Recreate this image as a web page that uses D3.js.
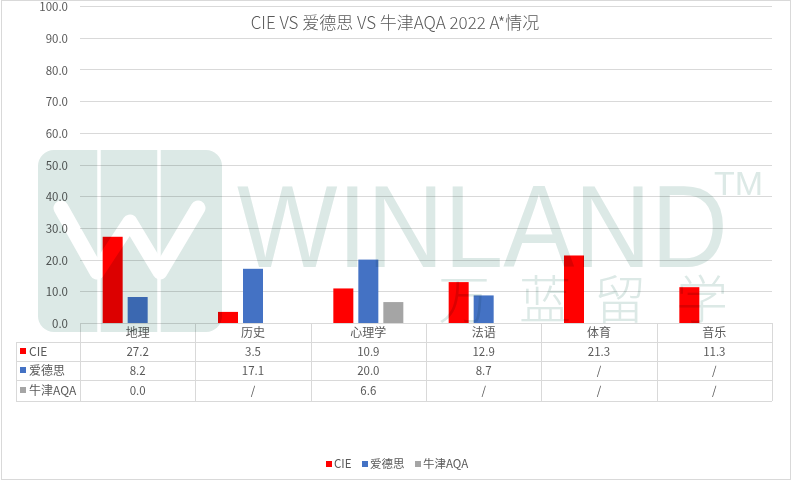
<!DOCTYPE html>
<html><head><meta charset="utf-8">
<script src="https://cdn.jsdelivr.net/npm/d3@7/dist/d3.min.js"></script>
<style>
html,body{margin:0;padding:0;background:#fff;}
svg{display:block;font-family:"Noto Sans CJK SC","Noto Sans",sans-serif;}
</style></head>
<body>
<svg id="chart" width="793" height="482"></svg>
<script>
const title = "CIE VS 爱德思 VS 牛津AQA 2022 A*情况";
const categories = ["地理","历史","心理学","法语","体育","音乐"];
const seriesNames = ["CIE","爱德思","牛津AQA"];
const seriesColors = ["#FF0000","#4472C4","#A5A5A5"];
const cieValues = [27.2,3.5,10.9,12.9,21.3,11.3];
const edexcelValues = [8.2,17.1,20.0,8.7,null,null];
const aqaValues = [0.0,null,6.6,null,null,null];
const yTicks = [0,10,20,30,40,50,60,70,80,90,100];

(function(){
const series = [cieValues, edexcelValues, aqaValues];
const svg = d3.select("#chart");
const pL = 80, pR = 772, pT = 6, pB = 323;
const gridColor = "#D9D9D9", textColor = "#595959";

// outer border
svg.append("rect").attr("x",1.5).attr("y",0.5).attr("width",789).attr("height",479)
  .attr("fill","#fff").attr("stroke","#D9D9D9");

const x = d3.scaleBand().domain(categories).range([pL,pR]).padding(0);
const xs = d3.scaleBand().domain(d3.range(3)).range([-35,35]).paddingInner(0.2);
const y = d3.scaleLinear().domain([0,100]).range([pB,pT]);

// gridlines
svg.append("g").selectAll("line").data(yTicks.filter(t=>t>0)).join("line")
  .attr("x1",pL).attr("x2",pR).attr("y1",d=>Math.round(y(d))+0.5).attr("y2",d=>Math.round(y(d))+0.5)
  .attr("stroke",gridColor).attr("stroke-width",1);

// y axis labels
const yAxis = d3.axisLeft(y).tickValues(yTicks).tickFormat(d3.format(".1f")).tickSize(0).tickPadding(0);
const ya = svg.append("g").attr("transform",`translate(${pL-12},1)`).call(yAxis);
ya.select(".domain").remove();
ya.selectAll("text").attr("fill",textColor).attr("font-size",11.5)
  .attr("font-family","'Noto Sans CJK SC',sans-serif");

// bars
const bars = svg.append("g");
series.forEach((vals,si)=>{
  bars.selectAll(null).data(vals.map((v,i)=>({v,c:categories[i]})).filter(d=>d.v!==null)).join("rect")
    .attr("x",d=>x(d.c)+x.bandwidth()/2+xs(si))
    .attr("width",xs.bandwidth())
    .attr("y",d=>y(d.v))
    .attr("height",d=>y(0)-y(d.v))
    .attr("fill",seriesColors[si]);
});

// data table
const tbl = svg.append("g");
const rowTops = [323,342,361,380,401];
const labelLeft = 16;
tbl.append("line").attr("x1",pL).attr("x2",pR).attr("y1",323.5).attr("y2",323.5).attr("stroke",gridColor);
[342,361,380,401].forEach(r=>{
  tbl.append("line").attr("x1",labelLeft).attr("x2",pR).attr("y1",r+0.5).attr("y2",r+0.5).attr("stroke",gridColor);
});
tbl.append("line").attr("x1",labelLeft+0.5).attr("x2",labelLeft+0.5).attr("y1",342).attr("y2",401).attr("stroke",gridColor);
categories.forEach(c=>{
  tbl.append("line").attr("x1",Math.round(x(c))+0.5).attr("x2",Math.round(x(c))+0.5).attr("y1",323).attr("y2",401).attr("stroke",gridColor);
});
tbl.append("line").attr("x1",pR+0.5).attr("x2",pR+0.5).attr("y1",323).attr("y2",401).attr("stroke",gridColor);

tbl.selectAll(null).data(categories).join("text")
  .attr("x",d=>x(d)+x.bandwidth()/2).attr("y",(rowTops[0]+rowTops[1])/2)
  .attr("dy","0.35em").attr("text-anchor","middle").attr("font-size",12).attr("fill",textColor).text(d=>d);
series.forEach((vals,si)=>{
  const cy = (rowTops[si+1]+rowTops[si+2])/2;
  tbl.append("rect").attr("x",20).attr("y",cy-3.5).attr("width",6).attr("height",6).attr("fill",seriesColors[si]);
  tbl.append("text").attr("x",29).attr("y",cy).attr("dy","0.35em").attr("font-size",12)
    .attr("fill",textColor).text(seriesNames[si]);
  tbl.selectAll(null).data(vals).join("text")
    .attr("x",(d,i)=>x(categories[i])+x.bandwidth()/2).attr("y",cy).attr("dy","0.35em")
    .attr("text-anchor","middle").attr("font-size",11.5).attr("fill",textColor)
    .text(d=>d===null?"/":d3.format(".1f")(d));
});

// title
svg.append("text").attr("x",395).attr("y",23).attr("dy","0.35em").attr("text-anchor","middle")
  .attr("font-size",17).attr("font-weight",300).attr("fill",textColor).text(title);

// legend
const legend = svg.append("g").attr("transform","translate(0,464)");
const legX = [326,362,415];
seriesNames.forEach((n,i)=>{
  legend.append("rect").attr("x",legX[i]).attr("y",-3).attr("width",6).attr("height",6).attr("fill",seriesColors[i]);
  legend.append("text").attr("x",legX[i]+8).attr("y",0).attr("dy","0.35em").attr("font-size",11.5)
    .attr("fill",textColor).text(n);
});

// watermark (multiply overlay)
const wm = svg.append("g").style("mix-blend-mode","multiply");
const wmColor = "#DCE9E6";
wm.append("rect").attr("x",38).attr("y",150).attr("width",184).attr("height",182).attr("rx",16).attr("fill",wmColor);
wm.append("line").attr("x1",99).attr("x2",99).attr("y1",150).attr("y2",332).attr("stroke","#fff").attr("stroke-width",3.5);
wm.append("line").attr("x1",159).attr("x2",159).attr("y1",150).attr("y2",332).attr("stroke","#fff").attr("stroke-width",3.5);
wm.append("polyline").attr("points","61,208 97,272 130,222 160,272 198,208")
  .attr("fill","none").attr("stroke","#fff").attr("stroke-width",15).attr("stroke-linecap","round").attr("stroke-linejoin","round");
wm.append("text").attr("x",237).attr("y",267).attr("font-size",117).attr("font-family","'Liberation Sans',Arial,sans-serif")
  .attr("textLength",491).attr("lengthAdjust","spacingAndGlyphs").attr("fill",wmColor).text("WINLAND");
wm.append("text").attr("x",714).attr("y",195).attr("font-size",34).attr("font-family","'Liberation Sans',Arial,sans-serif")
  .attr("fill",wmColor).text("TM");
const wmChars = ["万","蓝","留","学"];
const wmCx = [464,545,620,702];
wmChars.forEach((c,i)=>{
  wm.append("text").attr("x",wmCx[i]).attr("y",301).attr("dy","0.35em").attr("text-anchor","middle")
    .attr("font-size",52).attr("font-weight",300).attr("fill",wmColor).text(c);
});
})();
</script>
</body></html>
